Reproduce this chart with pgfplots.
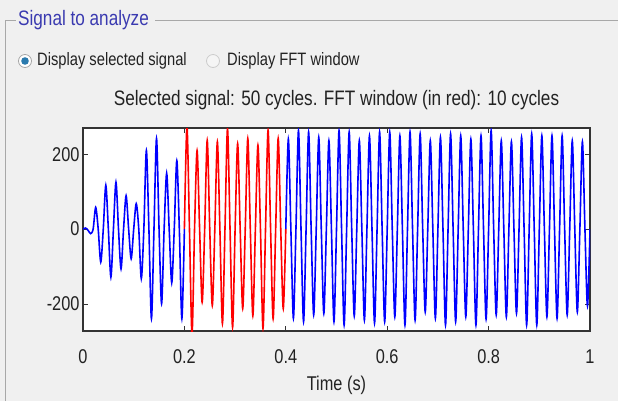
\documentclass[border=0pt]{standalone}
\usepackage{fontspec}
\setmainfont{Liberation Sans}[FakeStretch=0.82]
\usepackage{pgfplots}
\pgfplotsset{compat=1.18}

\definecolor{panelbg}{HTML}{F0F0F0}
\definecolor{framegray}{HTML}{A8A8A8}
\definecolor{paneltitle}{HTML}{3A3AB0}
\definecolor{labelgray}{HTML}{222222}
\definecolor{radioblue}{HTML}{2A7AAE}

\begin{document}
\begin{tikzpicture}[x=1bp,y=1bp]
\useasboundingbox (0,0) rectangle (618,-401);
\fill[panelbg] (0,0) rectangle (618,-401);

% panel frame and title
\draw[framegray, line width=1bp] (5,-401) -- (5,-20) -- (16,-20);
\draw[framegray, line width=1bp] (155,-20) -- (618,-20);
\node[anchor=west, inner sep=0pt, text=paneltitle, font=\fontsize{21}{24}\selectfont] at (18,-20) {Signal to analyze};

% radio buttons
\draw[gray!70, fill=white, line width=0.8bp] (25,-61) circle (6.5);
\fill[radioblue] (25,-61) circle (3.8);
\draw[gray!40, fill=gray!8, line width=0.8bp] (213,-61) circle (6.5);
\node[anchor=west, inner sep=0pt, text=labelgray, font=\fontsize{18}{20}\selectfont] at (37,-61) {Display selected signal};
\node[anchor=west, inner sep=0pt, text=labelgray, font=\fontsize{18}{20}\selectfont] at (227,-61) {Display FFT window};

% plot title
\node[inner sep=0pt, text=labelgray, font=\fontsize{21}{24}\selectfont] at (336.5,-100) {Selected signal: 50 cycles. FFT window (in red): 10 cycles};

\begin{axis}[
  at={(83bp,-331bp)}, anchor=south west,
  scale only axis, width=507bp, height=203bp,
  xmin=0, xmax=1, ymin=-272, ymax=270,
  xtick={0,0.2,0.4,0.6,0.8,1},
  ytick={-200,0,200},
  tick align=inside, major tick length=5bp,
  axis line style={line width=1.3bp, black!80},
  every tick/.style={black!80, line width=0.8bp},
  axis background/.style={fill=white},
  /pgf/number format/assume math mode=true,
  tick label style={font=\fontsize{20}{22}\selectfont, text=labelgray},
  xticklabel style={yshift=-15bp},
  xlabel={Time (s)},
  xlabel style={font=\fontsize{20}{22}\selectfont, text=labelgray, yshift=-6bp},
]

% selected signal, first part
\addplot[blue, line width=1.6bp, smooth] table {
t v
0 0
0.005 3
0.01 -3
0.015 -12
0.02 0
0.025 58
0.03 0
0.035 -88
0.04 0
0.045 117
0.05 0
0.055 -128
0.06 0
0.065 125
0.07 0
0.075 -106
0.08 0
0.085 89
0.09 0
0.095 -79
0.1 0
0.105 68
0.11 0
0.115 -132
0.12 0
0.125 210
0.13 0
0.135 -239
0.14 0
0.145 242
0.15 0
0.155 -199
0.16 0
0.165 149
0.17 0
0.175 -143
0.18 0
0.185 183
0.19 0
0.195 -239
0.2 0
};

% FFT window (red)
\addplot[red, line width=1.6bp, smooth] table {
t v
0.2 0
0.205 275
0.21 0
0.215 -280
0.22 0
0.225 210
0.23 0
0.235 -195
0.24 0
0.245 237
0.25 0
0.255 -204
0.26 0
0.265 233
0.27 0
0.275 -252
0.28 0
0.285 268
0.29 0
0.295 -262
0.3 0
0.305 228
0.31 0
0.315 -212
0.32 0
0.325 242
0.33 0
0.335 -231
0.34 0
0.345 224
0.35 0
0.355 -265
0.36 0
0.365 264
0.37 0
0.375 -239
0.38 0
0.385 242
0.39 0
0.395 -212
0.4 0
};

% selected signal, rest
\addplot[blue, line width=1.6bp, smooth] table {
t v
0.4 0
0.405 240
0.41 0
0.415 -238
0.42 0
0.425 263
0.43 0
0.435 -247
0.44 0
0.445 259
0.45 0
0.455 -229
0.46 0
0.465 245
0.47 0
0.475 -225
0.48 0
0.485 236
0.49 0
0.495 -247
0.5 0
0.505 263
0.51 0
0.515 -256
0.52 0
0.525 259
0.53 0
0.535 -232
0.54 0
0.545 236
0.55 0
0.555 -243
0.56 0
0.565 249
0.57 0
0.575 -251
0.58 0
0.585 259
0.59 0
0.595 -247
0.6 0
0.605 259
0.61 0
0.615 -234
0.62 0
0.625 249
0.63 0
0.635 -256
0.64 0
0.645 259
0.65 0
0.655 -243
0.66 0
0.665 254
0.67 0
0.675 -221
0.68 0
0.685 236
0.69 0
0.695 -238
0.7 0
0.705 245
0.71 0
0.715 -256
0.72 0
0.725 254
0.73 0
0.735 -247
0.74 0
0.745 249
0.75 0
0.755 -234
0.76 0
0.765 240
0.77 0
0.775 -256
0.78 0
0.785 249
0.79 0
0.795 -240
0.8 0
0.805 263
0.81 0
0.815 -229
0.82 0
0.825 236
0.83 0
0.835 -234
0.84 0
0.845 233
0.85 0
0.855 -225
0.86 0
0.865 245
0.87 0
0.875 -256
0.88 0
0.885 254
0.89 0
0.895 -256
0.9 0
0.905 249
0.91 0
0.915 -234
0.92 0
0.925 249
0.93 0
0.935 -238
0.94 0
0.945 249
0.95 0
0.955 -229
0.96 0
0.965 236
0.97 0
0.975 -221
0.98 0
0.985 233
0.99 0
0.995 -205
1 0
};
\end{axis}
\end{tikzpicture}
\end{document}
